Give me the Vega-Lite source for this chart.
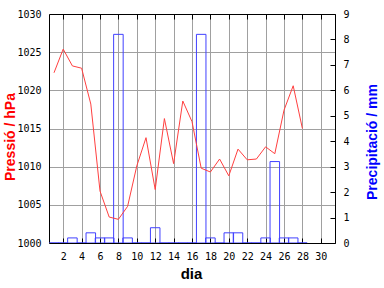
{
  "$schema": "https://vega.github.io/schema/vega-lite/v6.json",
  "width": 286,
  "height": 229,
  "autosize": {"type": "none"},
  "padding": {"left": 49, "top": 14, "right": 49, "bottom": 45},
  "background": "white",
  "view": {"stroke": null},
  "config": {
    "axis": {
      "labelFont": "DejaVu Sans Mono",
      "labelFontSize": 10,
      "labelColor": "black",
      "domainColor": "black",
      "domainWidth": 1,
      "tickColor": "black",
      "tickWidth": 1,
      "gridColor": "#a0a0a0",
      "gridWidth": 1,
      "gridOpacity": 1,
      "titleFont": "Liberation Sans",
      "titleFontWeight": "bold"
    }
  },
  "data": {
    "values": [
      {"day": 1, "pressure": 1022.3, "precip": 0},
      {"day": 2, "pressure": 1025.4, "precip": 0},
      {"day": 3, "pressure": 1023.2, "precip": 0.2},
      {"day": 4, "pressure": 1022.9, "precip": 0},
      {"day": 5, "pressure": 1018.2, "precip": 0.4},
      {"day": 6, "pressure": 1006.8, "precip": 0.2},
      {"day": 7, "pressure": 1003.4, "precip": 0.2},
      {"day": 8, "pressure": 1003.1, "precip": 8.2},
      {"day": 9, "pressure": 1004.8, "precip": 0.2},
      {"day": 10, "pressure": 1010.1, "precip": 0},
      {"day": 11, "pressure": 1013.8, "precip": 0},
      {"day": 12, "pressure": 1007.0, "precip": 0.6},
      {"day": 13, "pressure": 1016.3, "precip": 0},
      {"day": 14, "pressure": 1010.4, "precip": 0},
      {"day": 15, "pressure": 1018.6, "precip": 0},
      {"day": 16, "pressure": 1015.9, "precip": 0},
      {"day": 17, "pressure": 1009.8, "precip": 8.2},
      {"day": 18, "pressure": 1009.3, "precip": 0.2},
      {"day": 19, "pressure": 1011.0, "precip": 0},
      {"day": 20, "pressure": 1008.8, "precip": 0.4},
      {"day": 21, "pressure": 1012.3, "precip": 0.4},
      {"day": 22, "pressure": 1010.9, "precip": 0},
      {"day": 23, "pressure": 1011.0, "precip": 0},
      {"day": 24, "pressure": 1012.6, "precip": 0.2},
      {"day": 25, "pressure": 1011.7, "precip": 3.2},
      {"day": 26, "pressure": 1017.4, "precip": 0.2},
      {"day": 27, "pressure": 1020.6, "precip": 0.2},
      {"day": 28, "pressure": 1015.0, "precip": 0}
    ]
  },
  "layer": [
    {
      "mark": {"type": "bar", "fill": "transparent", "stroke": "#4040ff", "strokeWidth": 1, "width": 9.53, "clip": true},
      "encoding": {
        "x": {
          "field": "day", "type": "quantitative",
          "scale": {"domain": [1, 31], "nice": false, "zero": false},
          "axis": {"orient": "top", "values": [2,4,6,8,10,12,14,16,18,20,22,24,26,28,30], "labels": false, "ticks": true, "tickSize": -5, "grid": false, "domain": true, "title": null}
        },
        "y": {
          "field": "precip", "type": "quantitative",
          "scale": {"domain": [0, 9], "nice": false, "zero": true},
          "axis": {
            "orient": "right", "values": [0,1,2,3,4,5,6,7,8,9], "format": "d", "grid": false, "ticks": true, "tickSize": -5, "labelPadding": 13, "domain": true,
            "title": "Precipitació / mm", "titleColor": "#0000ff", "titleFontSize": 14, "titleAngle": -90,
            "titleX": 41, "titleY": 127.5, "titleBaseline": "alphabetic", "titleAlign": "center"
          }
        }
      }
    },
    {
      "mark": {"type": "line", "stroke": "#ff4040", "strokeWidth": 1},
      "encoding": {
        "x": {
          "field": "day", "type": "quantitative",
          "scale": {"domain": [1, 31], "nice": false, "zero": false},
          "axis": {
            "orient": "bottom", "values": [2,4,6,8,10,12,14,16,18,20,22,24,26,28,30], "format": "d", "grid": true, "ticks": true, "tickSize": -5, "labelPadding": 13, "domain": true,
            "title": "dia", "titleColor": "black", "titleFontSize": 15, "titleX": 142, "titleY": 35, "titleBaseline": "alphabetic", "titleAlign": "center"
          }
        },
        "y": {
          "field": "pressure", "type": "quantitative",
          "scale": {"domain": [1000, 1030], "nice": false, "zero": false},
          "axis": {
            "orient": "left", "values": [1000,1005,1010,1015,1020,1025,1030], "format": "d", "grid": true, "ticks": false, "labelPadding": 8, "domain": true,
            "title": "Pressió / hPa", "titleColor": "#ff0000", "titleFontSize": 14, "titleAngle": -90,
            "titleX": -35, "titleY": 122.5, "titleBaseline": "alphabetic", "titleAlign": "center"
          }
        }
      }
    }
  ],
  "resolve": {"scale": {"y": "independent"}, "axis": {"x": "independent"}}
}
